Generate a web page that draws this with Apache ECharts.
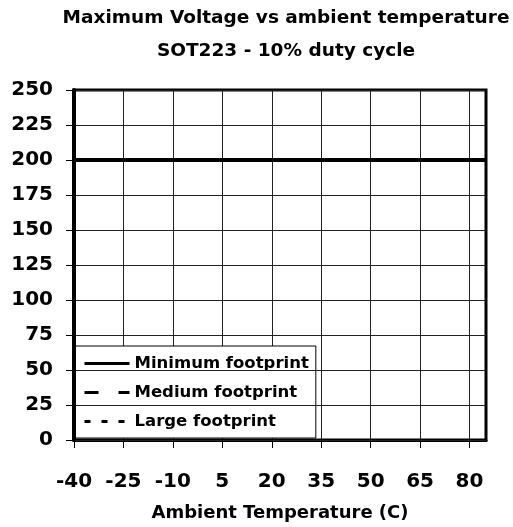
<!DOCTYPE html>
<html>
<head>
<meta charset="utf-8">
<script src="https://cdn.jsdelivr.net/npm/echarts@6/dist/echarts.min.js"></script>
<style>
  html, body { margin: 0; padding: 0; background: #fff; }
  #chart { width: 513px; height: 527px; }
</style>
</head>
<body>
<div id="chart"></div>
<script>
// Chart data
const temperatures = [-40, -25, -10, 5, 20, 35, 50, 65, 80, 85];
const minFootprint = [200, 200, 200, 200, 200, 200, 200, 200, 200, 200];
const mediumFootprint = [200, 200, 200, 200, 200, 200, 200, 200, 200, 200];
const largeFootprint = [200, 200, 200, 200, 200, 200, 200, 200, 200, 200];
const xTicks = [-40, -25, -10, 5, 20, 35, 50, 65, 80];
const seriesNames = ['Minimum footprint', 'Medium footprint', 'Large footprint'];

const font = 'DejaVu Sans';
const toPoints = (vals) => temperatures.map((t, i) => [t, vals[i]]);

const chart = echarts.init(document.getElementById('chart'));

const option = {
  backgroundColor: '#fff',
  animation: false,
  title: {
    text: 'Maximum Voltage vs ambient temperature\nSOT223 - 10% duty cycle',
    left: 281,
    top: -3,
    textAlign: 'center',
    textStyle: {
      fontFamily: font,
      fontWeight: 'bold',
      fontSize: 18.5,
      lineHeight: 33,
      color: '#000',
    },
  },
  grid: {
    left: 74,
    right: 27,
    top: 90,
    bottom: 87,
    show: true,
    borderColor: '#000',
    borderWidth: 3,
  },
  legend: {
    orient: 'vertical',
    left: 75,
    bottom: 89,
    padding: [9, 7, 8, 8],
    itemGap: 12,
    itemWidth: 45,
    itemHeight: 14,
    backgroundColor: '#fff',
    borderColor: '#000',
    borderWidth: 1,
    data: seriesNames,
    itemStyle: { color: 'transparent', borderWidth: 0 },
    lineStyle: { width: 3 },
    textStyle: {
      fontFamily: font,
      fontWeight: 'bold',
      fontSize: 16.5,
      color: '#000',
    },
  },
  xAxis: {
    type: 'value',
    min: -40,
    max: 85,
    name: 'Ambient Temperature (C)',
    nameLocation: 'middle',
    nameGap: 64,
    nameTextStyle: {
      fontFamily: font,
      fontWeight: 'bold',
      fontSize: 18,
      color: '#000',
    },
    axisLine: { show: true, onZero: false, lineStyle: { color: '#000', width: 3 } },
    axisTick: { show: true, length: 8, customValues: xTicks, lineStyle: { color: '#000', width: 1 } },
    axisLabel: {
      customValues: xTicks,
      margin: 32,
      fontFamily: font,
      fontWeight: 'bold',
      fontSize: 20,
      color: '#000',
    },
    splitLine: { show: true, lineStyle: { color: '#222', width: 1 } },
  },
  yAxis: {
    type: 'value',
    min: 0,
    max: 250,
    interval: 25,
    z: 5,
    axisLine: { show: true, onZero: false, lineStyle: { color: '#000', width: 4 } },
    axisTick: { show: true, length: 8, lineStyle: { color: '#000', width: 1 } },
    axisLabel: {
      margin: 21,
      fontFamily: font,
      fontWeight: 'bold',
      fontSize: 20,
      color: '#000',
    },
    splitLine: { show: true, lineStyle: { color: '#222', width: 1 } },
  },
  series: [
    {
      name: seriesNames[2],
      type: 'line',
      symbol: 'none',
      z: 3,
      itemStyle: { color: '#000' },
      lineStyle: { color: '#000', width: 3, type: [6, 11] },
      data: toPoints(largeFootprint),
    },
    {
      name: seriesNames[1],
      type: 'line',
      symbol: 'none',
      z: 4,
      itemStyle: { color: '#000' },
      lineStyle: { color: '#000', width: 3, type: [14, 20] },
      data: toPoints(mediumFootprint),
    },
    {
      name: seriesNames[0],
      type: 'line',
      symbol: 'none',
      z: 5,
      itemStyle: { color: '#000' },
      lineStyle: { color: '#000', width: 4 },
      data: toPoints(minFootprint),
    },
  ],
};

chart.setOption(option);
</script>
</body>
</html>
